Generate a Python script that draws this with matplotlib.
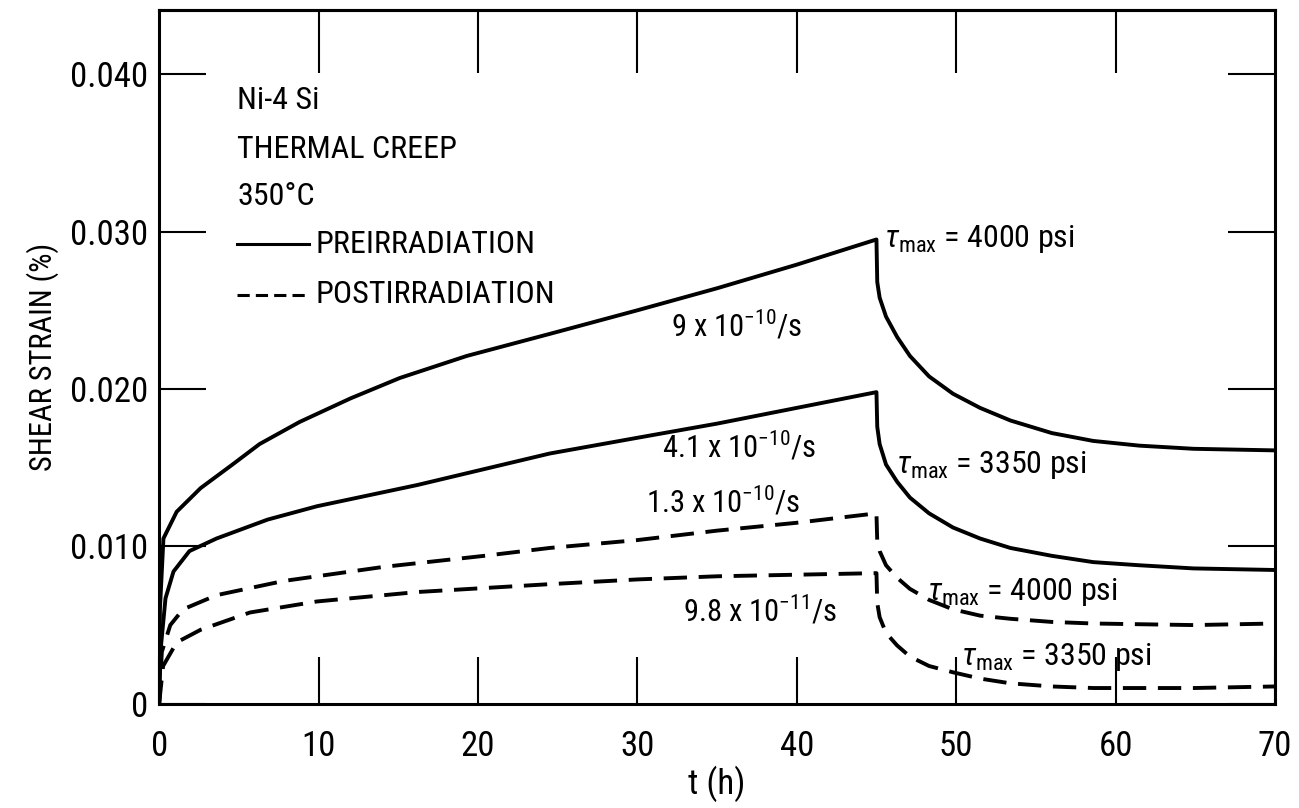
import matplotlib
matplotlib.use("Agg")
import matplotlib.pyplot as plt
from matplotlib import font_manager

# font: narrow sans to look like the lettering guide text
names = set(f.name for f in font_manager.fontManager.ttflist)
FONT = "DejaVu Sans"
for cand in ["DejaVu Sans Condensed", "Liberation Sans Narrow", "Roboto Condensed", "DejaVu Sans"]:
    if cand in names:
        FONT = cand
        break
plt.rcParams["font.family"] = [FONT, "DejaVu Sans"]
plt.rcParams["font.stretch"] = "condensed"
plt.rcParams["mathtext.fontset"] = "custom"
plt.rcParams["mathtext.rm"] = FONT
plt.rcParams["mathtext.it"] = FONT + ":italic"

# preirradiation, tau_max = 4000 psi
t_pre_4000 = [0, 0.05, 0.27, 1.1, 2.6, 4.6, 6.3, 8.8, 12.0, 15.1, 19.3, 24.5, 30.0, 35.0, 40.0, 45.0,
              45.05, 45.2, 45.6, 46.3, 47.1, 48.3, 49.8, 51.5, 53.4, 56.0, 58.6, 61.5, 64.9, 70.0]
y_pre_4000 = [0, 0.0060, 0.0105, 0.0122, 0.0137, 0.0152, 0.0165, 0.0179, 0.0194, 0.0207, 0.0221, 0.0235,
              0.0250, 0.0264, 0.0279, 0.0295,
              0.0268, 0.0258, 0.0246, 0.0233, 0.0221, 0.0208, 0.0197, 0.0188, 0.0180, 0.0172, 0.0167,
              0.0164, 0.0162, 0.0161]

# preirradiation, tau_max = 3350 psi
t_pre_3350 = [0, 0.1, 0.4, 0.9, 1.9, 3.6, 6.8, 9.9, 16.2, 24.5, 30.0, 35.0, 40.0, 45.0,
              45.05, 45.2, 45.6, 46.3, 47.1, 48.3, 49.8, 51.5, 53.4, 56.0, 58.6, 61.5, 64.9, 70.0]
y_pre_3350 = [0, 0.0035, 0.0067, 0.0084, 0.0097, 0.0105, 0.0117, 0.01255, 0.0139, 0.0159, 0.0169, 0.0178,
              0.0188, 0.0198,
              0.0176, 0.0165, 0.0152, 0.0141, 0.0131, 0.0121, 0.0112, 0.0105, 0.0099, 0.0094, 0.0090,
              0.0088, 0.0086, 0.0085]

# postirradiation, tau_max = 4000 psi
t_post_4000 = [0, 0.17, 0.7, 1.5, 3.6, 7.8, 14.1, 20.4, 24.5, 30.0, 35.0, 40.0, 45.0,
               45.05, 45.2, 45.6, 46.3, 47.1, 48.3, 49.8, 51.5, 53.4, 56.0, 58.6, 64.9, 70.0]
y_post_4000 = [0, 0.0033, 0.0050, 0.0060, 0.0069, 0.0078, 0.0087, 0.0094, 0.0099, 0.0104, 0.0110, 0.0115,
               0.0121,
               0.0103, 0.0097, 0.0088, 0.0080, 0.0073, 0.0066, 0.0060, 0.0056, 0.0054, 0.0052, 0.0051,
               0.0050, 0.0051]

# postirradiation, tau_max = 3350 psi
t_post_3350 = [0, 0.25, 1.1, 2.6, 5.7, 9.9, 16.2, 24.5, 30.0, 35.0, 40.0, 45.0,
               45.05, 45.2, 45.6, 46.3, 47.1, 48.3, 49.8, 51.5, 53.4, 56.0, 58.6, 64.9, 70.0]
y_post_3350 = [0, 0.0024, 0.0039, 0.0047, 0.0058, 0.0065, 0.0071, 0.0076, 0.0079, 0.0081, 0.0082, 0.0083,
               0.0064, 0.0055, 0.0045, 0.0037, 0.0030, 0.0024, 0.0020, 0.0016, 0.0013, 0.0011, 0.0010,
               0.0010, 0.0011]

rate_labels = ["9 x 10$^{-10}$/s", "4.1 x 10$^{-10}$/s", "1.3 x 10$^{-10}$/s", "9.8 x 10$^{-11}$/s"]
stress_labels = [r"$\tau_{\rm max}$ = 4000 psi", r"$\tau_{\rm max}$ = 3350 psi",
                 r"$\tau_{\rm max}$ = 4000 psi", r"$\tau_{\rm max}$ = 3350 psi"]

LW = 2.8
DASH = (0, (6, 3))

fig = plt.figure(figsize=(12.99, 8.08), dpi=100)
ax = fig.add_axes([0.1225, 0.129, 0.859, 0.859])

ax.plot(t_pre_4000, y_pre_4000, color="black", lw=LW, solid_joinstyle="round")
ax.plot(t_pre_3350, y_pre_3350, color="black", lw=LW, solid_joinstyle="round")
ax.plot(t_post_4000, y_post_4000, color="black", lw=LW, linestyle=DASH)
ax.plot(t_post_3350, y_post_3350, color="black", lw=LW, linestyle=DASH)

ax.set_xlim(0, 70)
ax.set_ylim(0, 0.0441)

FS = 23
ax.set_xticks([0, 10, 20, 30, 40, 50, 60, 70])
ax.set_xticklabels(["0", "10", "20", "30", "40", "50", "60", "70"])
ax.set_yticks([0, 0.010, 0.020, 0.030, 0.040])
ax.set_yticklabels(["0", "0.010", "0.020", "0.030", "0.040"])
ax.tick_params(axis="both", direction="in", length=34, width=1.5, labelsize=25)
ax.tick_params(axis="x", pad=19)
ax.tick_params(axis="y", right=True, pad=8)
top = ax.secondary_xaxis("top")
top.set_xticks([10, 20, 30, 40, 50, 60])
top.tick_params(direction="in", length=45, width=1.5, labeltop=False)
for s in top.spines.values():
    s.set_linewidth(2.2)
for s in ax.spines.values():
    s.set_linewidth(2.2)

ax.set_xlabel("t (h)", fontsize=25, labelpad=2)
ax.set_ylabel("SHEAR STRAIN (%)", fontsize=22, labelpad=8)

# legend block
ax.text(4.9, 0.0383, "Ni-4 Si", fontsize=FS, va="center")
ax.text(4.9, 0.0352, "THERMAL CREEP", fontsize=FS, va="center")
ax.text(4.9, 0.0322, "350°C", fontsize=FS, va="center")
ax.plot([4.9, 9.4], [0.0292, 0.0292], color="black", lw=2.2)
ax.plot([4.9, 9.4], [0.0260, 0.0260], color="black", lw=2.2, linestyle=(0, (4, 2)))
ax.text(9.8, 0.0292, "PREIRRADIATION", fontsize=FS, va="center")
ax.text(9.8, 0.0260, "POSTIRRADIATION", fontsize=FS, va="center")

# rate labels
ax.text(36.2, 0.0240, rate_labels[0], fontsize=22, ha="center", va="center")
ax.text(36.4, 0.0163, rate_labels[1], fontsize=22, ha="center", va="center")
ax.text(35.4, 0.0128, rate_labels[2], fontsize=22, ha="center", va="center")
ax.text(37.7, 0.0059, rate_labels[3], fontsize=22, ha="center", va="center")

# stress labels
ax.text(45.5, 0.0295, stress_labels[0], fontsize=FS, ha="left", va="center")
ax.text(46.2, 0.0152, stress_labels[1], fontsize=FS, ha="left", va="center")
ax.text(48.2, 0.0071, stress_labels[2], fontsize=FS, ha="left", va="center")
ax.text(50.3, 0.0030, stress_labels[3], fontsize=FS, ha="left", va="center")

fig.savefig("out.png", dpi=100)
